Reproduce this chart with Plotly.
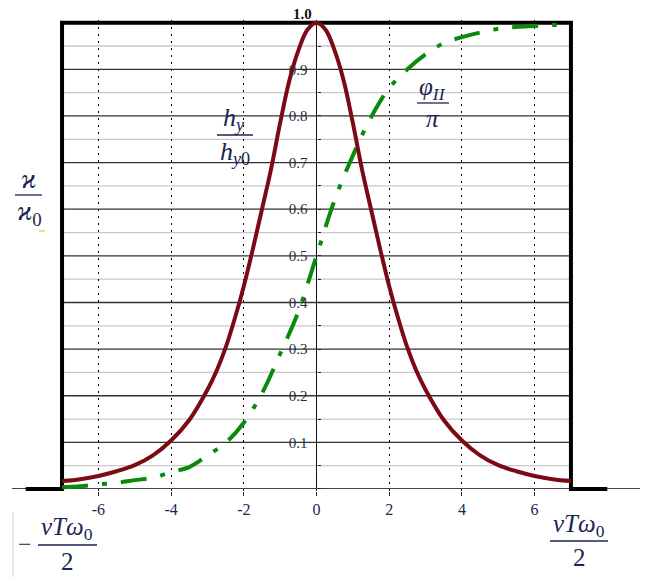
import plotly.graph_objects as go

# ---------------- data ----------------
# window (rectangle) function
rect_x = [-8, -7, -7, 7, 7, 8]
rect_y = [0, 0, 1, 1, 0, 0]

# h_y / h_y0
hy_x = [-7, -6.5, -6, -5.5, -5, -4.5, -4, -3.5, -3, -2.75, -2.5, -2.25, -2, -1.75,
        -1.5, -1.25, -1, -0.75, -0.5, -0.25, 0,
        0.25, 0.5, 0.75, 1, 1.25, 1.5, 1.75, 2, 2.25, 2.5, 2.75, 3, 3.5, 4, 4.5,
        5, 5.5, 6, 6.5, 7]
hy_y = [0.017, 0.021, 0.028, 0.038, 0.051, 0.072, 0.104, 0.148, 0.213, 0.253, 0.303,
        0.365, 0.435, 0.515, 0.60, 0.686, 0.785, 0.875, 0.94, 0.985, 1.0,
        0.985, 0.94, 0.875, 0.785, 0.686, 0.60, 0.515, 0.435, 0.365, 0.303, 0.253,
        0.213, 0.148, 0.104, 0.072, 0.051, 0.038, 0.028, 0.021, 0.017]

# phi_II / pi
ph_x = [-7, -6.5, -6, -5.5, -5, -4.5, -4, -3.5, -3, -2.5, -2, -1.5, -1, -0.5, 0,
        0.5, 1, 1.5, 2, 2.5, 3, 3.5, 4, 4.5, 5, 5.5, 6, 6.5, 7]
ph_y = [0.004, 0.006, 0.010, 0.013, 0.019, 0.024, 0.036, 0.047, 0.072, 0.099, 0.142,
        0.205, 0.29, 0.38, 0.50, 0.62, 0.715, 0.797, 0.86, 0.90, 0.932, 0.956, 0.969,
        0.979, 0.987, 0.991, 0.993, 0.995, 0.996]

x_ticks = [-6, -4, -2, 0, 2, 4, 6]
y_ticks = [0.1, 0.2, 0.3, 0.4, 0.5, 0.6, 0.7, 0.8, 0.9]
y_ticktext = ["0.1", "0.2", "0.3", "0.4", "0.5", "0.6", "0.7", "0.8", "0.9"]
grid_major = [0.1, 0.2, 0.3, 0.4, 0.5, 0.6, 0.7, 0.8, 0.9]
grid_minor = [0.05, 0.15, 0.25, 0.35, 0.45, 0.55, 0.65, 0.75, 0.85, 0.95]

# ---------------- layout helpers ----------------
# page body has an 8px margin, so the figure is 8px smaller and its
# margins are shifted by 8px
FIG_W, FIG_H = 654, 569
ML, MT, W, H = 4, 12, 628, 471


def px(xp):   # reference-pixel x -> paper
    return (xp - 12) / W


def py(yp):   # reference-pixel y -> paper
    return (491 - yp) / H


RED = "#7B0A14"
GREEN = "#0A8A0A"
TXT = "#1a2555"
SERIF = "Liberation Serif"

fig = go.Figure()

fig.add_trace(go.Scatter(x=rect_x, y=rect_y, mode="lines",
                         line=dict(color="black", width=4), hoverinfo="skip"))
fig.add_trace(go.Scatter(x=ph_x, y=ph_y, mode="lines",
                         line=dict(color=GREEN, width=4, shape="spline",
                                   dash="26px,14px,5px,14px"), hoverinfo="skip"))
fig.add_trace(go.Scatter(x=hy_x, y=hy_y, mode="lines",
                         line=dict(color=RED, width=4, shape="spline"), hoverinfo="skip"))

shapes = []
for v in grid_minor:
    shapes.append(dict(type="line", xref="x", yref="y", x0=-7, x1=7, y0=v, y1=v,
                       line=dict(color="#c8c8c8", width=1.3), layer="below"))
for v in grid_major:
    shapes.append(dict(type="line", xref="x", yref="y", x0=-7, x1=7, y0=v, y1=v,
                       line=dict(color="#333333", width=1.3), layer="below"))

# white boxes behind labels
for (x0, x1, y0, y1) in [(213, 259, 104, 170), (413, 455, 74, 132)]:
    shapes.append(dict(type="rect", xref="paper", yref="paper",
                       x0=px(x0), x1=px(x1), y0=py(y1), y1=py(y0),
                       fillcolor="white", line=dict(width=0), layer="below"))

# fraction bars
for (x0, x1, yb) in [(15, 42, 195), (217, 253, 135), (417, 449, 103),
                     (38, 97, 545), (550, 608, 541)]:
    shapes.append(dict(type="line", xref="paper", yref="paper",
                       x0=px(x0), x1=px(x1), y0=py(yb), y1=py(yb),
                       line=dict(color=TXT, width=1.3)))
# faint region edge and placeholder mark
shapes.append(dict(type="line", xref="paper", yref="paper", x0=px(13), x1=px(13),
                   y0=py(512), y1=py(577), line=dict(color="#dde3ea", width=1.5)))
shapes.append(dict(type="line", xref="paper", yref="paper", x0=px(39), x1=px(45),
                   y0=py(231), y1=py(231), line=dict(color="#f2a900", width=1)))

ann = []


def txt(s, xp, yp, size=26, xanchor="center", color=TXT, family=SERIF):
    ann.append(dict(text=s, x=px(xp), y=py(yp), xref="paper", yref="paper",
                    xanchor=xanchor, yanchor="middle", showarrow=False,
                    font=dict(family=family, size=size, color=color)))


txt("<b>1.0</b>", 314, 14.5, size=15, xanchor="right", color="#111111")
txt("<i>ϰ</i>", 28, 179, size=27)
txt("<i>ϰ</i><sub>0</sub>", 29, 213, size=27)
txt("<i>h</i><sub><i>y</i></sub>", 234, 119, size=26)
txt("<i>h</i><sub><i>y</i>0</sub>", 235, 153, size=26)
txt("<i>φ</i><sub><i>II</i></sub>", 432, 89, size=25)
txt("<i>π</i>", 433, 119, size=25)
txt("−", 25, 544, size=24)
txt("<i>νTω</i><sub>0</sub>", 67, 528, size=25)
txt("2", 67, 561, size=25)
txt("<i>νTω</i><sub>0</sub>", 579, 525, size=25)
txt("2", 579, 557, size=25)

fig.update_layout(
    width=FIG_W, height=FIG_H,
    margin=dict(l=ML, r=FIG_W - ML - W, t=MT, b=FIG_H - MT - H, autoexpand=False),
    paper_bgcolor="white", plot_bgcolor="white",
    showlegend=False,
    shapes=shapes, annotations=ann,
    xaxis=dict(range=[-8.377, 8.90], tickvals=x_ticks, ticktext=[str(v) for v in x_ticks],
               ticks="outside", ticklen=4, tickcolor="#222", tickwidth=1,
               showgrid=True, gridcolor="black", gridwidth=1.4, griddash="2px,5px",
               zeroline=True, zerolinecolor="#111", zerolinewidth=1.2,
               showline=False, automargin=False,
               tickfont=dict(family=SERIF, size=16, color=TXT)),
    yaxis=dict(range=[-0.0043, 1.0058], tickvals=y_ticks, ticktext=y_ticktext,
               anchor="free", position=px(316.5), side="left",
               ticks="inside", ticklen=3, tickcolor="#222",
               minor=dict(ticks="inside", ticklen=3, dtick=0.05, tick0=0, tickcolor="#222",
                          showgrid=False),
               showgrid=False, zeroline=True, zerolinecolor="#444", zerolinewidth=1.2,
               showline=False, automargin=False, ticklabelstandoff=9,
               tickfont=dict(family=SERIF, size=15, color="#2b2f45")),
)

fig.write_html("out.html")
